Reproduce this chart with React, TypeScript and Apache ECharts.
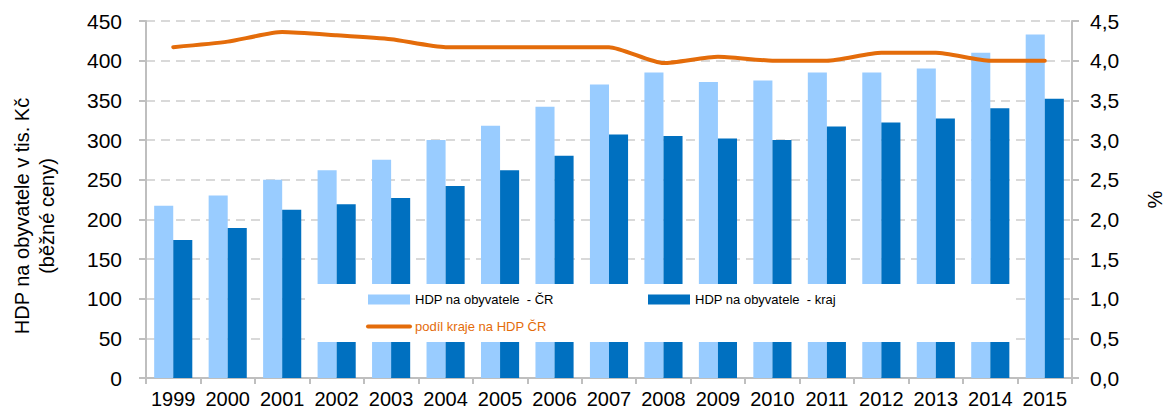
import React, { useEffect, useRef } from "react";
import * as echarts from "echarts";

const years = ["1999", "2000", "2001", "2002", "2003", "2004", "2005", "2006", "2007", "2008", "2009", "2010", "2011", "2012", "2013", "2014", "2015"];
const hdpCR = [217, 230, 250, 262, 275, 300, 318, 342, 370, 385, 373, 375, 385, 385, 390, 410, 433];
const hdpKraj = [174, 189, 212, 219, 227, 242, 262, 280, 307, 305, 302, 300, 317, 322, 327, 340, 352];
const podilKraje = [4.17, 4.24, 4.36, 4.32, 4.27, 4.17, 4.17, 4.17, 4.17, 3.97, 4.05, 4.0, 4.0, 4.1, 4.1, 4.0, 4.0];

const nameCR = "HDP na obyvatele  - ČR";
const nameKraj = "HDP na obyvatele  - kraj";
const namePodil = "podíl kraje na HDP ČR";
const leftAxisTitle = "HDP na obyvatele v tis. Kč\n(běžné ceny)";
const rightAxisTitle = "%";

const FONT = "'Liberation Sans', Arial, sans-serif";
const LIGHT = "#99CCFF";
const DARK = "#0070C0";
const ORANGE = "#E46C0A";
const AXIS = "#BFBFBF";
const GRID = "#D9D9D9";

export default function App() {
  const ref = useRef<HTMLDivElement>(null);
  useEffect(() => {
    if (!ref.current) return;
    const chart = echarts.init(ref.current, undefined, { renderer: "svg" });
    chart.setOption({
      animation: false,
      backgroundColor: "#ffffff",
      textStyle: { fontFamily: FONT },
      grid: { left: 146, right: 95, top: 21, bottom: 34, containLabel: false, outerBoundsMode: "none" },
      xAxis: {
        type: "category",
        data: years,
        boundaryGap: true,
        axisLine: { lineStyle: { color: AXIS, width: 2 } },
        axisTick: { show: true, length: 6, interval: 0, lineStyle: { color: AXIS, width: 2 } },
        axisLabel: { color: "#000", fontSize: 20, margin: 11, fontFamily: FONT, interval: 0 },
      },
      yAxis: [
        {
          type: "value",
          min: 0,
          max: 450,
          interval: 50,
          axisLine: { show: true, lineStyle: { color: AXIS, width: 2 } },
          axisTick: { show: true, length: 7, lineStyle: { color: AXIS, width: 2 } },
          axisLabel: { color: "#000", fontSize: 21, margin: 24, fontFamily: FONT },
          splitLine: { show: true, lineStyle: { color: GRID, width: 2, type: [9, 6] } },
        },
        {
          type: "value",
          min: 0,
          max: 4.5,
          interval: 0.5,
          position: "right",
          name: rightAxisTitle,
          nameLocation: "middle",
          nameRotate: 90,
          nameGap: 73,
          nameMoveOverlap: false,
          nameTextStyle: { color: "#000", fontSize: 20, fontFamily: FONT },
          axisLine: { show: true, lineStyle: { color: AXIS, width: 2 } },
          axisTick: { show: true, length: 7, lineStyle: { color: AXIS, width: 2 } },
          axisLabel: {
            color: "#000",
            fontSize: 21,
            margin: 18,
            fontFamily: FONT,
            formatter: (v: number) => v.toFixed(1).replace(".", ","),
          },
          splitLine: { show: false },
        },
      ],
      legend: [
        {
          z: 100,
          orient: "vertical",
          left: 366,
          top: 293,
          padding: 0,
          itemWidth: 42,
          itemHeight: 10,
          itemGap: 14,
          textStyle: { fontSize: 13, color: "#000", fontFamily: FONT },
          data: [
            { name: nameCR, icon: "rect" },
            {
              name: namePodil,
              textStyle: { color: ORANGE },
              lineStyle: { width: 4, color: ORANGE, cap: "round" },
              itemStyle: { color: "rgba(0,0,0,0)", borderColor: "rgba(0,0,0,0)", borderWidth: 0, opacity: 0 },
            },
          ],
        },
        {
          z: 100,
          orient: "vertical",
          left: 648,
          top: 293,
          padding: 0,
          itemWidth: 42,
          itemHeight: 10,
          textStyle: { fontSize: 13, color: "#000", fontFamily: FONT },
          data: [{ name: nameKraj, icon: "rect" }],
        },
      ],
      graphic: [
        {
          type: "rect",
          z: 50,
          shape: { x: 310, y: 284, width: 702, height: 58 },
          style: { fill: "#ffffff" },
          silent: true,
        },
        {
          type: "text",
          z: 50,
          x: 34,
          y: 216,
          rotation: Math.PI / 2,
          style: {
            text: leftAxisTitle,
            fontSize: 20,
            fontFamily: FONT,
            fill: "#000",
            align: "center",
            verticalAlign: "middle",
            lineHeight: 25,
          },
        },
      ],
      series: [
        {
          name: nameCR,
          type: "bar",
          data: hdpCR,
          barGap: "0%",
          barCategoryGap: "30%",
          itemStyle: { color: LIGHT },
          z: 2,
        },
        {
          name: nameKraj,
          type: "bar",
          data: hdpKraj,
          barGap: "0%",
          barCategoryGap: "30%",
          itemStyle: { color: DARK },
          z: 2,
        },
        {
          name: namePodil,
          type: "line",
          yAxisIndex: 1,
          data: podilKraje,
          symbol: "none",
          smooth: 0.2,
          lineStyle: { color: ORANGE, width: 4, cap: "round", join: "round" },
          itemStyle: { color: ORANGE },
          z: 3,
        },
      ],
    });
    return () => chart.dispose();
  }, []);
  return (
    <div
      ref={ref}
      style={{ position: "fixed", left: 0, top: 0, width: 1167, height: 412, background: "#fff" }}
    />
  );
}
